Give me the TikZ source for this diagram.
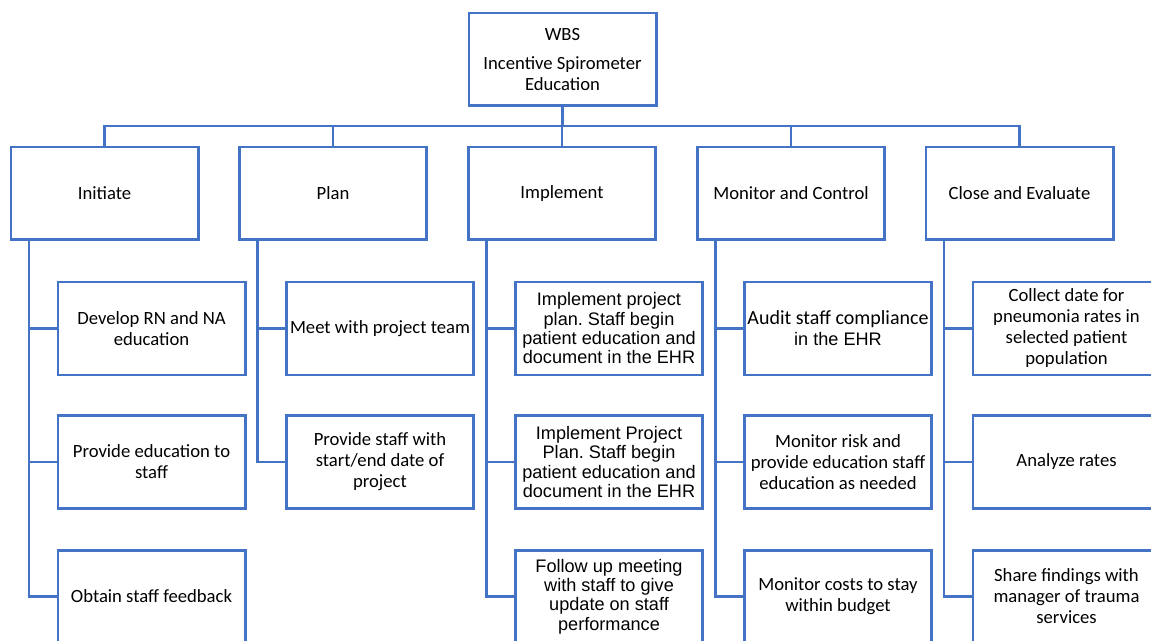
\documentclass[tikz,border=0pt]{standalone}
\usepackage{fontspec}
\setmainfont{Carlito}
\newfontfamily\arialfont{Liberation Sans}
\usetikzlibrary{calc}
\definecolor{wbsblue}{HTML}{4472C4}
\frenchspacing
\tikzset{
  wbsbox/.style={draw=wbsblue, line width=2pt, fill=white,
    minimum width=140.5pt, minimum height=69.5pt, inner sep=0pt,
    align=center, font=\fontsize{14}{15.75}\selectfont},
  arialtext/.style={font=\arialfont\fontsize{13.6}{14.5}\selectfont},
  link/.style={draw=wbsblue, line width=2pt},
}
\begin{document}
\begin{tikzpicture}[x=0.75pt,y=-0.75pt]
\useasboundingbox (0,0) rectangle (1151,641);
\clip (0,0) rectangle (1151,641);

% top of the breakdown
\node[wbsbox] (root) at (562.5,59.5) {WBS\\[6pt]Incentive Spirometer\\Education};

% phases
\node[wbsbox] (ini) at (104.5,193.5) {Initiate};
\node[wbsbox] (pla) at (333,193.5) {Plan};
\node[wbsbox] (imp) at (562,193.5) {Implement};
\node[wbsbox] (mon) at (791,193.5) {Monitor and Control};
\node[wbsbox] (clo) at (1019.5,193.5) {Close and Evaluate};

% Initiate tasks
\node[wbsbox] (ini1) at (151.5,328.5) {Develop RN and NA\\education};
\node[wbsbox] (ini2) at (151.5,462) {Provide education to\\staff};
\node[wbsbox] (ini3) at (151.5,596.5) {Obtain staff feedback};

% Plan tasks
\node[wbsbox] (pla1) at (380,328.5) {Meet with project team};
\node[wbsbox] (pla2) at (380,462) {Provide staff with\\start/end date of\\project};

% Implement tasks
\node[wbsbox,arialtext] (imp1) at (609,328.5) {Implement project\\plan. Staff begin\\patient education and\\document in the EHR};
\node[wbsbox,arialtext] (imp2) at (609,462) {Implement Project\\Plan. Staff begin\\patient education and\\document in the EHR};
\node[wbsbox,arialtext] (imp3) at (609,596.5) {Follow up meeting\\with staff to give\\update on staff\\performance};

% Monitor and Control tasks
\node[wbsbox] (mon1) at (838,328.5) {{\fontsize{15}{14.5}\selectfont Audit staff compliance}\\{\arialfont\fontsize{13.6}{14.5}\selectfont in the EHR}};
\node[wbsbox] (mon2) at (838,462) {Monitor risk and\\provide education staff\\education as needed};
\node[wbsbox] (mon3) at (838,596.5) {Monitor costs to stay\\within budget};

% Close and Evaluate tasks
\node[wbsbox] (clo1) at (1066.5,328.5) {Collect date for\\pneumonia rates in\\selected patient\\population};
\node[wbsbox] (clo2) at (1066.5,462) {Analyze rates};
\node[wbsbox] (clo3) at (1066.5,596.5) {Share findings with\\manager of trauma\\services};

% root to phases
\foreach \p in {ini,pla,imp,mon,clo}
  \draw[link] (root.south) -- ++(0,19) -| (\p.north);

% phase spines to tasks
\foreach \p/\c in {ini/ini1,ini/ini2,ini/ini3,pla/pla1,pla/pla2,
                   imp/imp1,imp/imp2,imp/imp3,mon/mon1,mon/mon2,mon/mon3,
                   clo/clo1,clo/clo2,clo/clo3}
  \draw[link] ($(\p.south)+(-75.5,0)$) |- (\c.west);
\end{tikzpicture}
\end{document}
